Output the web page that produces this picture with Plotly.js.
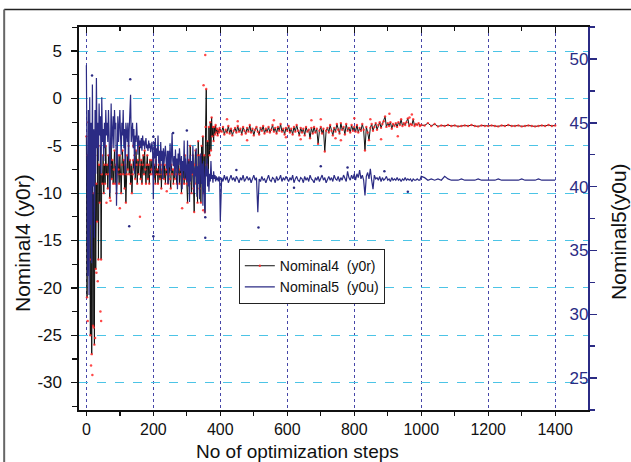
<!DOCTYPE html>
<html>
<head>
<meta charset="utf-8">
<script src="https://cdn.plot.ly/plotly-3.0.1.min.js"></script>
<style>
html,body{margin:0;padding:0;background:#fff;}
#chart{width:631px;height:462px;}
</style>
</head>
<body>
<div id="chart"></div>
<script>
// optimization step numbers (shared by both series)
const steps = [
  0,2,4,6,8,10,12,14,16,18,20,22,24,26,28,30,32,34,36,38,40,42,44,46,48,50,52,54,56,58,60,
  62,64,66,68,70,72,74,76,78,80,
  82,84,86,88,90,92,94,96,98,100,
  102,104,106,108,110,112,114,116,118,120,
  122,124,126,128,130,132,134,136,138,140,
  142,144,146,148,150,152,154,156,158,160,
  162,164,166,168,170,172,174,176,178,180,
  182,184,186,188,190,192,194,196,198,200,
  202,204,206,208,210,212,214,216,218,220,
  222,224,226,228,230,232,234,236,238,240,
  242,244,246,248,250,252,254,256,258,260,
  262,264,266,268,270,272,274,276,278,280,
  282,284,286,288,290,292,294,296,298,300,
  302,304,306,308,310,312,314,316,318,320,
  322,324,326,328,330,332,334,336,338,340,
  342,344,346,348,350,352,354,356,358,360,
  362,364,366,368,370,372,374,376,378,380,
  382,384,386,388,390,392,394,396,398,400,
  404,408,412,416,420,424,428,432,436,440,
  444,448,452,456,460,464,468,472,476,480,
  484,488,492,496,500,504,508,512,516,520,
  524,528,532,536,540,544,548,552,556,560,
  564,568,572,576,580,584,588,592,596,600,
  604,608,612,616,620,624,628,632,636,640,
  644,648,652,656,660,664,668,672,676,680,
  684,688,692,696,700,704,708,712,716,720,
  724,728,732,736,740,744,748,752,756,760,
  764,768,772,776,780,784,788,792,796,800,
  804,808,812,816,820,824,828,832,836,840,
  844,848,852,856,860,864,868,872,876,880,
  884,888,892,896,900,904,908,912,916,920,
  924,928,932,936,940,944,948,952,956,960,
  964,968,972,976,980,984,988,992,996,1000,
  1010,1020,1030,1040,1050,1060,1070,1080,1090,1100,
  1110,1120,1130,1140,1150,1160,1170,1180,1190,1200,
  1210,1220,1230,1240,1250,1260,1270,1280,1290,1300,
  1310,1320,1330,1340,1350,1360,1370,1380,1390,1400
];

// Nominal4 (y0r) - left axis
const nominal4 = [
  -4,-21,-6,-12,-3.5,-17,-25,-8,-27,-5,-24,-10,-26,-6,-18,-9,-13,-4,-17,-7,-11,-5,-17,-8,-9,-6,-10,-7,-9,-5,-8,
  -7,-9.5,-6,-8,-10.5,-7,-5,-8.5,-6.5,-9,
  -7.5,-5.5,-9,-7,-10,-8,-6,-7.5,-9,-6,
  -8,-10,-7,-5.5,-8,-6.5,-9.5,-7,-11,-8,
  -6,-7.5,-5,-8,-6.5,-9,-7,-10,-8,-6.5,
  -7.5,-6,-8.5,-5.5,-7,-9,-6.5,-8,-5,-7,
  -8.5,-6.5,-9,-7,-6,-8,-5.5,-7.5,-9,-7,
  -6,-8.5,-7,-9,-6.5,-8,-7.5,-6.5,-8,-7.5,
  -8.5,-7,-9,-6.5,-8,-7.5,-9,-7,-8,-8.5,
  -7,-9.5,-7.5,-8,-6.5,-8.5,-7,-9,-7.5,-8,
  -6.5,-9,-8,-7,-8.5,-9.5,-7,-8,-7.5,-9,
  -7.5,-8.5,-6.5,-8,-9,-7,-8,-6.5,-9,-7.5,
  -8,-10,-7.5,-8.5,-7,-9,-6,-8.5,-7.5,-9,
  -11,-8,-6.5,-9,-5,-7.5,-10,-8,-6,-9.5,
  -12,-7,-5.5,-9,-8,-11,-4.5,-7,-9.5,-6,
  -11,-5,-8,-4,-10,-6,-12,-3,1,-7,
  -4.5,-9,-3,-6,-2.5,-5.5,-2,-4,-3,-4.5,
  -3,-3.8,-2.8,-3.6,-3.2,-3.9,-3.3,-3.6,-3.1,-3.4,
  -3.5,-3.0,-3.8,-3.3,-3.6,-2.9,-3.7,-3.2,-3.9,-3.4,
  -3.1,-3.6,-2.9,-3.5,-3.2,-3.8,-3.0,-3.4,-3.7,-3.1,
  -3.5,-2.8,-3.6,-3.2,-3.9,-3.3,-3.0,-3.5,-3.8,-3.1,
  -3.4,-2.9,-3.7,-3.2,-3.5,-3.0,-3.6,-3.3,-2.8,-3.5,
  -3.1,-3.7,-3.0,-3.4,-2.7,-3.5,-3.2,-3.8,-3.1,-3.4,
  -2.9,-3.6,-3.2,-3.8,-3.0,-3.5,-2.8,-3.4,-3.9,-3.1,
  -3.6,-3.2,-3.9,-3.0,-3.5,-3.3,-4.2,-3.1,-3.7,-3.0,
  -3.6,-3.2,-4.8,-3.4,-3.0,-3.7,-3.2,-5.6,-3.4,-3.1,
  -3.6,-2.8,-3.4,-3.9,-3.1,-3.5,-2.7,-3.3,-3.7,-2.6,
  -3.3,-3.0,-3.8,-2.7,-3.4,-3.1,-3.6,-2.8,-3.4,-3.0,
  -3.5,-2.8,-3.6,-3.1,-3.4,-2.7,-3.3,-5.5,-3.0,-3.6,
  -4.4,-3.1,-2.7,-3.4,-3.0,-2.6,-3.3,-2.8,-2.5,-3.1,
  -2.7,-2.4,-1.9,-3.0,-2.6,-2.9,-2.5,-3.2,-2.7,-2.9,
  -2.6,-3.0,-2.5,-2.8,-2.2,-2.9,-2.6,-2.8,-2.5,-2.1,
  -2.9,-2.7,-2.8,-2.2,-2.9,-2.7,-2.8,-2.6,-2.9,-2.8,
  -2.85,-2.6,-2.9,-2.7,-2.95,-2.85,-2.9,-2.8,-2.9,-2.85,
  -2.95,-2.9,-2.85,-2.9,-2.8,-2.9,-2.95,-2.85,-2.9,-2.9,
  -2.85,-2.9,-2.95,-2.85,-2.9,-2.8,-2.9,-2.9,-2.85,-2.95,
  -2.9,-2.85,-2.9,-2.95,-2.9,-2.85,-2.9,-2.8,-2.9,-2.85
];

// Nominal5 (y0u) - right axis
const nominal5 = [
  49.5,44,33,46,31.5,47,37,45,34,48,40,44.5,36,46,41,48.5,43,45,42,46.5,44,45.5,41,47,43.5,44.5,42,45,43,46,44,
  45,43.5,46,44,39.5,45,46.5,43,44.5,45.5,
  43,46,44.5,45,38.5,44,45.5,43.5,44.5,46,
  44,42.5,45,44,46,43,44.5,41,45,44,
  43.5,45,42,44.5,46,47.2,43.5,44,45,43,
  44.5,41,44,43.5,45,43.8,42.5,44,43.2,43.6,
  43,43.8,42.8,44,43.2,43.6,42.9,43.4,43.8,43,
  43.3,42.8,43.6,43,43.4,42.7,43.2,43.5,42.6,39,
  43.5,42.2,43.8,41.5,43,42.4,44,41.8,42.8,41,
  43.5,42,42.8,40.6,43,41.8,42.6,43.2,42,41.4,
  42.8,40.2,42.8,41.5,43.4,41.2,42.4,44.2,42,41.6,
  42.4,40.8,42.9,41.4,42.2,39.8,42.6,41.7,43,41.5,
  41.2,42.4,39.8,42,41.2,43.6,40.6,42.2,41.5,40.4,
  43.6,40,41.8,38.8,42.5,40.4,42,41,43.2,40.6,
  39.5,41.5,40.8,43,39.2,41.6,40.2,42.4,39,41.4,
  42.6,40.2,41.8,38.5,42,40.5,37.9,41.6,40.8,42.2,
  40,41.4,39.6,41,40.4,42,40.6,40.9,40.3,41.2,
  40.6,40.9,40.4,40.8,40.5,40.7,40.4,40.8,40.6,37.3,
  40.7,40.4,40.9,40.5,40.8,40.3,40.6,40.9,40.5,40.7,
  40.4,40.8,40.6,40.3,40.7,40.5,40.9,40.4,40.6,40.8,
  40.5,40.7,40.3,40.6,40.9,40.5,40.7,38.0,40.6,40.4,
  40.8,40.5,40.6,40.3,40.7,40.9,40.5,40.4,40.7,40.6,
  40.3,40.8,40.5,40.6,40.9,40.4,40.7,40.5,40.8,40.6,
  40.4,40.7,40.5,40.9,40.3,40.6,40.8,40.5,40.4,40.7,
  40.6,40.3,40.8,40.5,40.7,40.4,40.9,40.6,40.5,40.3,
  40.7,40.5,40.8,40.4,40.6,40.9,40.5,40.7,40.3,40.6,
  40.8,40.5,40.7,40.4,40.9,40.6,40.5,40.8,40.4,40.7,
  40.5,40.9,40.6,40.4,41.2,40.7,40.5,40.9,40.6,41.0,
  40.5,41.0,40.7,41.3,40.6,40.9,40.5,39.3,40.8,41.1,
  40.6,41.4,40.5,39.8,40.9,40.6,40.7,40.5,40.8,40.4,
  40.7,40.5,40.6,40.8,40.5,40.6,40.4,40.7,40.5,40.6,
  40.5,40.7,40.5,40.6,40.4,40.6,40.5,40.7,40.5,40.6,
  40.5,40.6,40.4,40.6,40.5,40.5,40.6,40.5,40.5,40.8,
  40.7,40.5,40.6,40.5,40.6,40.5,40.8,40.6,40.5,40.5,
  40.5,40.6,40.5,40.5,40.5,40.5,40.6,40.5,40.5,40.5,
  40.5,40.5,40.6,40.5,40.5,40.5,40.5,40.5,40.5,40.6,
  40.5,40.5,40.5,40.5,40.6,40.5,40.5,40.5,40.5,40.5
];

// scattered sample points off the lines
const redDotSteps  = [4,14,18,22,26,30,34,42,44,6,60,72,100,160,286,349,350,355,332,420,480,560,640,700,760,800,880,905,930,965,140,200,240,250,452,596,672,744,848,972];
const redDotValues = [-23.5,-28.2,-29.2,-24.2,-25.3,-18.4,-19.3,-22.5,-23.5,-2.5,-11,-10.8,-11.6,-12.5,-11.6,-11.8,1.4,4.6,-6,-2.2,-4.4,-2.3,-4.3,-2.2,-4.4,-2.1,-4.3,-1.6,-4,-2.0,-5,-6.2,-9.8,-6,-2.4,-4.1,-2.3,-4.2,-2.2,-1.7];
const blueDotSteps  = [17,131,200,259,200,355,128,514,355,300,700,960,448,620,780,890];
const blueDotValues = [48.7,48.4,43.9,44.2,36.1,36.0,36.9,36.8,37.6,44.4,41.6,39.6,41.3,39.9,41.5,41.2];

// tick labels
const xTickVals = [0,200,400,600,800,1000,1200,1400];
const xTickText = ['0','200','400','600','800','1000','1200','1400'];
const yLeftTickVals = [-30,-25,-20,-15,-10,-5,0,5];
const yLeftTickText = ['-30','-25','-20','-15','-10','-5','0','5'];
const yRightTickVals = [25,30,35,40,45,50];
const yRightTickText = ['25','30','35','40','45','50'];

const NAVY = '#2b2b84';
const FONT = 'Liberation Sans, Arial, sans-serif';

const traces = [
  {x: steps, y: nominal4, name: 'Nominal4\u00a0\u00a0(y0r)', type: 'scatter', mode: 'lines+markers',
   line: {color: '#111111', width: 1}, marker: {color: 'rgba(255,40,40,0.85)', size: 2.4},
   xaxis: 'x', yaxis: 'y'},
  {x: redDotSteps, y: redDotValues, type: 'scatter', mode: 'markers', showlegend: false,
   marker: {color: 'rgba(255,40,40,0.85)', size: 2.5}, xaxis: 'x', yaxis: 'y'},
  {x: steps, y: nominal5, name: 'Nominal5\u00a0\u00a0(y0u)', type: 'scatter', mode: 'lines',
   line: {color: NAVY, width: 1.2}, xaxis: 'x', yaxis: 'y2'},
  {x: blueDotSteps, y: blueDotValues, type: 'scatter', mode: 'markers', showlegend: false,
   marker: {color: NAVY, size: 2.5}, xaxis: 'x', yaxis: 'y2'},
  {x: [], y: [], type: 'scatter', mode: 'lines', showlegend: false, xaxis: 'x2', yaxis: 'y'}
];

const XR = [-22, 1498];
const layout = {
  width: 631, height: 462,
  margin: {l: 79, r: 43, t: 27, b: 52, pad: 0},
  paper_bgcolor: '#ffffff', plot_bgcolor: '#ffffff',
  font: {family: FONT, color: '#111111', size: 17},
  showlegend: true,
  legend: {x: 0.314, y: 0.42, xanchor: 'left', yanchor: 'top', bgcolor: '#ffffff',
           bordercolor: '#222222', borderwidth: 1, font: {size: 14, family: FONT, color: '#111'},
           tracegroupgap: 0, itemwidth: 30},
  xaxis: {range: XR, tickmode: 'array', tickvals: xTickVals, ticktext: xTickText,
          ticks: 'outside', ticklen: 4, tickwidth: 1.3, tickcolor: '#111',
          minor: {tick0: 0, dtick: 100, ticks: 'outside', ticklen: 4, tickwidth: 1.3, tickcolor: '#111', showgrid: false},
          showline: true, linecolor: '#111', linewidth: 1.6, zeroline: false,
          showgrid: true, gridcolor: '#4646a8', griddash: 'dot', gridwidth: 1,
          tickfont: {size: 16, family: FONT, color: '#111'}, anchor: 'y'},
  xaxis2: {range: XR, overlaying: 'x', side: 'top', anchor: 'y', tickmode: 'array', tickvals: xTickVals,
           ticks: 'inside', ticklen: 6, tickwidth: 1.3, tickcolor: '#111',
           minor: {tick0: 0, dtick: 100, ticks: 'inside', ticklen: 4, tickwidth: 1.3, tickcolor: '#111', showgrid: false},
           showline: true, linecolor: '#111', linewidth: 1.6, showticklabels: false, showgrid: false, zeroline: false},
  yaxis: {range: [-32.9, 7.55], tickmode: 'array', tickvals: yLeftTickVals, ticktext: yLeftTickText,
          ticks: 'outside', ticklen: 6, tickwidth: 1.3, tickcolor: '#111',
          minor: {tick0: 0, dtick: 2.5, ticks: 'outside', ticklen: 5, tickwidth: 1.3, tickcolor: '#111', showgrid: false},
          showline: true, linecolor: '#111', linewidth: 1.6, zeroline: false,
          showgrid: true, gridcolor: '#4cc4e6', griddash: 'dash', gridwidth: 1,
          ticklabelstandoff: 6,
          tickfont: {size: 17, family: FONT, color: '#111'}},
  yaxis2: {range: [22.5, 52.5], overlaying: 'y', side: 'right', anchor: 'x',
           tickmode: 'array', tickvals: yRightTickVals, ticktext: yRightTickText,
           ticks: 'outside', ticklen: 7, tickwidth: 1.5, tickcolor: NAVY,
           minor: {tick0: 0, dtick: 2.5, ticks: 'outside', ticklen: 5, tickwidth: 1.5, tickcolor: NAVY, showgrid: false},
           ticklabelposition: 'inside',
           showline: true, linecolor: NAVY, linewidth: 2, zeroline: false, showgrid: false,
           tickfont: {size: 17, family: FONT, color: NAVY}},
  annotations: [
    {text: 'No of optimization steps', xref: 'paper', yref: 'paper', x: 0.430, y: -0.108,
     xanchor: 'center', yanchor: 'middle', showarrow: false, font: {size: 19, family: FONT, color: '#111'}},
    {text: 'Nominal4 (y0r)', xref: 'paper', yref: 'paper', x: -0.112, y: 0.436, textangle: -90,
     xanchor: 'center', yanchor: 'middle', showarrow: false, font: {size: 21, family: FONT, color: '#111'}},
    {text: 'Nominal5(y0u)', xref: 'paper', yref: 'paper', x: 1.061, y: 0.465, textangle: -90,
     xanchor: 'center', yanchor: 'middle', showarrow: false, font: {size: 21, family: FONT, color: '#111'}}
  ],
  shapes: [
    {type: 'line', xref: 'paper', yref: 'paper', x0: -0.147, x1: 1.1, y0: 1.046, y1: 1.046,
     line: {color: '#222222', width: 1.5}},
    {type: 'line', xref: 'paper', yref: 'paper', x0: -0.147, x1: -0.147, y0: 1.046, y1: -0.2,
     line: {color: '#666666', width: 2}}
  ]
};

Plotly.newPlot('chart', traces, layout, {displayModeBar: false, staticPlot: true});
</script>
</body>
</html>
